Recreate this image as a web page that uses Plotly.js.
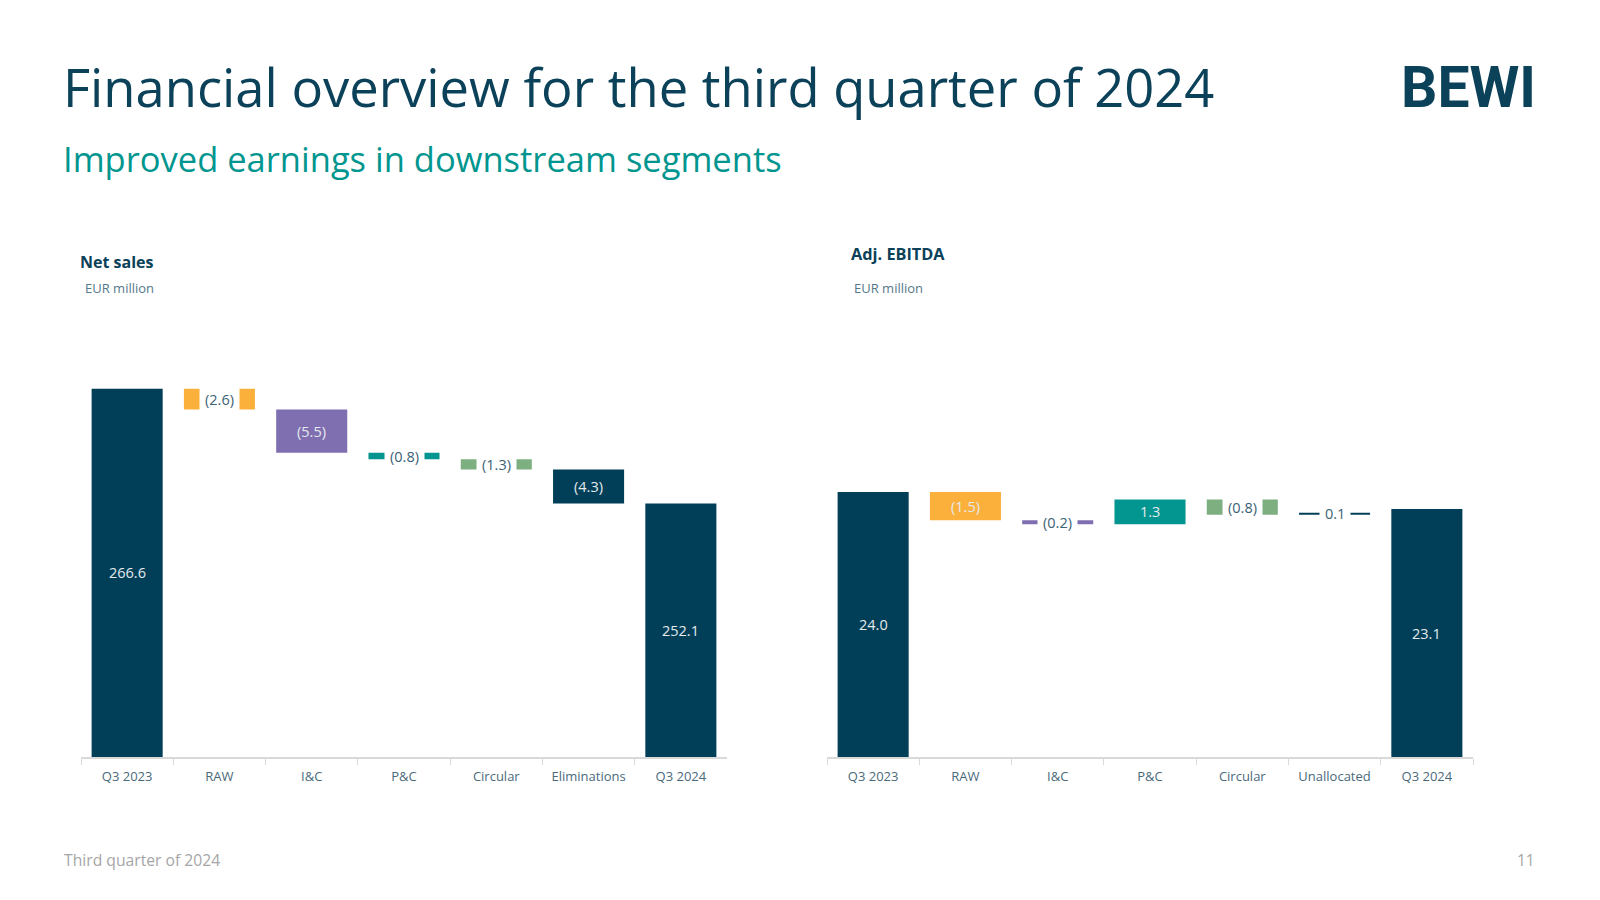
<!DOCTYPE html>
<html>
<head>
<meta charset="utf-8">
<script src="https://cdn.plot.ly/plotly-3.0.1.min.js"></script>
<style>
  html, body { margin: 0; padding: 0; background: #ffffff; }
  #chart { width: 1600px; height: 900px; }
</style>
</head>
<body>
<div id="chart"></div>
<script>
// ---------------- DATA ----------------
const salesCategories = ['Q3 2023', 'RAW', 'I&C', 'P&C', 'Circular', 'Eliminations', 'Q3 2024'];
const salesValues     = [266.6, -2.6, -5.5, -0.8, -1.3, -4.3, 252.1];
const salesMeasures   = ['absolute', 'relative', 'relative', 'relative', 'relative', 'relative', 'absolute'];
const salesLabels     = ['266.6', '(2.6)', '(5.5)', '(0.8)', '(1.3)', '(4.3)', '252.1'];

const ebitdaCategories = ['Q3 2023', 'RAW', 'I&C', 'P&C', 'Circular', 'Unallocated', 'Q3 2024'];
const ebitdaValues     = [24.0, -1.5, -0.2, 1.3, -0.8, 0.1, 23.1];
const ebitdaMeasures   = ['absolute', 'relative', 'relative', 'relative', 'relative', 'relative', 'absolute'];
const ebitdaLabels     = ['24.0', '(1.5)', '(0.2)', '1.3', '(0.8)', '0.1', '23.1'];

// ---------------- STYLE ----------------
const NAVY = '#013f58', ORANGE = '#fbb03b', PURPLE = '#7f6fb1', TEAL = '#03958f', GREEN = '#7daf80';
const segmentColors = [NAVY, ORANGE, PURPLE, TEAL, GREEN, NAVY, NAVY];
const LABEL_DARK = '#3b6275', LABEL_LIGHT = '#e4eaee', TICK = '#4a6a7b';
const FONT = 'Open Sans, Noto Sans, sans-serif';

const PX_W = 1600, PX_H = 900;
const plotTop = 300, plotBottom = 757;
const leftDomain  = [81 / PX_W, 727 / PX_W];
const rightDomain = [827 / PX_W, 1473 / PX_W];
const yDomain = [1 - plotBottom / PX_H, 1 - plotTop / PX_H];
const salesRange  = [220, 277.85];
const ebitdaRange = [10, 34.14];

function buildWaterfall(values, measures, rangeMin) {
  let cum = 0;
  const bases = [], heights = [];
  values.forEach((v, i) => {
    if (measures[i] === 'absolute') {
      bases.push(rangeMin);
      heights.push(v - rangeMin);
      cum = v;
    } else {
      bases.push(cum);
      heights.push(v);
      cum += v;
    }
  });
  return { bases, heights };
}

function pxPerUnit(range) { return (plotBottom - plotTop) / (range[1] - range[0]); }

function barAnnotations(cats, labels, wf, range, xref, yref) {
  const scale = pxPerUnit(range);
  return cats.map((c, i) => {
    const center = wf.bases[i] + wf.heights[i] / 2;
    const hpx = Math.abs(wf.heights[i]) * scale;
    const split = hpx < 24;
    const a = {
      xref: xref, yref: yref, x: c, y: center,
      text: labels[i], showarrow: false,
      xanchor: 'center', yanchor: 'middle',
      font: { family: FONT, size: 14.5, color: split ? LABEL_DARK : LABEL_LIGHT }
    };
    if (split) { a.bgcolor = '#ffffff'; a.borderpad = 5; }
    return a;
  });
}

const salesWF  = buildWaterfall(salesValues, salesMeasures, salesRange[0]);
const ebitdaWF = buildWaterfall(ebitdaValues, ebitdaMeasures, ebitdaRange[0]);

const traces = [
  {
    type: 'bar', x: salesCategories, y: salesWF.heights, base: salesWF.bases,
    xaxis: 'x', yaxis: 'y', width: 0.77,
    marker: { color: segmentColors, line: { width: 0 } },
    hoverinfo: 'skip', showlegend: false
  },
  {
    type: 'bar', x: ebitdaCategories, y: ebitdaWF.heights, base: ebitdaWF.bases,
    xaxis: 'x2', yaxis: 'y2', width: 0.77,
    marker: { color: segmentColors, line: { width: 0 } },
    hoverinfo: 'skip', showlegend: false
  }
];

function xAxis(domain, anchor) {
  return {
    domain: domain, anchor: anchor, type: 'category',
    range: [-0.5, 6.5], fixedrange: true,
    showline: true, linecolor: '#d9d9d9', linewidth: 1.5,
    ticks: 'outside', tickson: 'boundaries', ticklen: 6, tickcolor: '#d9d9d9', tickwidth: 1,
    ticklabelstandoff: 7,
    tickfont: { family: FONT, size: 13, color: TICK },
    showgrid: false, zeroline: false
  };
}
function yAxis(range, anchor) {
  return {
    domain: yDomain, anchor: anchor, range: range, fixedrange: true,
    visible: false, showgrid: false, zeroline: false
  };
}

function py(px) { return 1 - px / PX_H; }
function pxx(px) { return px / PX_W; }

const textAnnotations = [
  { text: 'Financial overview for the third quarter of 2024', x: pxx(61), y: py(86), xanchor: 'left', yanchor: 'middle',
    font: { family: FONT, size: 52.5, color: '#0b4159' } },
  { text: 'Improved earnings in downstream segments', x: pxx(61), y: py(158), xanchor: 'left', yanchor: 'middle',
    font: { family: FONT, size: 34.5, color: '#00968f' } },
  { text: 'BEWI', x: pxx(1538), y: py(87), xanchor: 'right', yanchor: 'middle',
    font: { family: 'Roboto, sans-serif', size: 57, color: '#0b4159', weight: 700 } },
  { text: '<b>Net sales</b>', x: pxx(78), y: py(262), xanchor: 'left', yanchor: 'middle',
    font: { family: FONT, size: 16, color: '#0b4159' } },
  { text: 'EUR million', x: pxx(83), y: py(288), xanchor: 'left', yanchor: 'middle',
    font: { family: FONT, size: 13, color: '#56788a' } },
  { text: '<b>Adj. EBITDA</b>', x: pxx(849), y: py(254), xanchor: 'left', yanchor: 'middle',
    font: { family: FONT, size: 16.3, color: '#0b4159' } },
  { text: 'EUR million', x: pxx(852), y: py(288), xanchor: 'left', yanchor: 'middle',
    font: { family: FONT, size: 13, color: '#56788a' } },
  { text: 'Third quarter of 2024', x: pxx(62), y: py(860), xanchor: 'left', yanchor: 'middle',
    font: { family: FONT, size: 15.7, color: '#a6a6a6' } },
  { text: '11', x: pxx(1537), y: py(860), xanchor: 'right', yanchor: 'middle',
    font: { family: FONT, size: 15.5, color: '#a6a6a6' } }
].map(a => Object.assign({ xref: 'paper', yref: 'paper', showarrow: false }, a));

const layout = {
  width: PX_W, height: PX_H,
  margin: { l: 0, r: 0, t: 0, b: 0 },
  paper_bgcolor: '#ffffff', plot_bgcolor: 'rgba(0,0,0,0)',
  font: { family: FONT },
  bargap: 0.23,
  showlegend: false,
  xaxis: xAxis(leftDomain, 'y'),
  yaxis: yAxis(salesRange, 'x'),
  xaxis2: xAxis(rightDomain, 'y2'),
  yaxis2: yAxis(ebitdaRange, 'x2'),
  annotations: textAnnotations
    .concat(barAnnotations(salesCategories, salesLabels, salesWF, salesRange, 'x', 'y'))
    .concat(barAnnotations(ebitdaCategories, ebitdaLabels, ebitdaWF, ebitdaRange, 'x2', 'y2'))
};

Plotly.newPlot('chart', traces, layout, { displayModeBar: false, staticPlot: true });
</script>
</body>
</html>
